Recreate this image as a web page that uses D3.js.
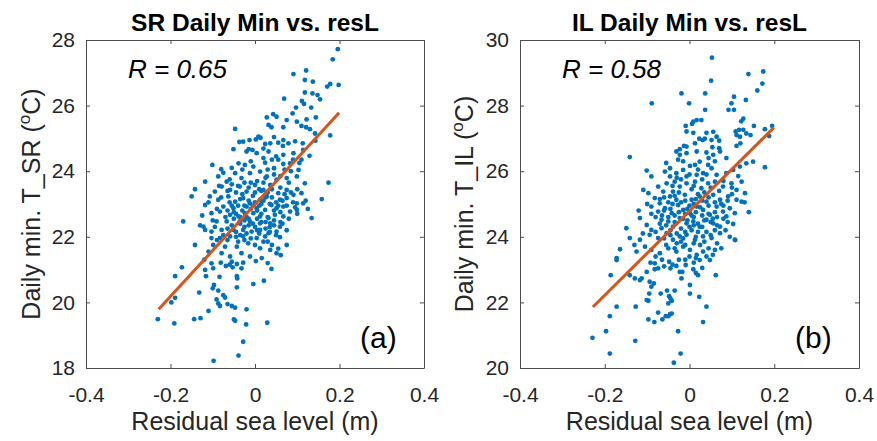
<!DOCTYPE html>
<html><head><meta charset="utf-8">
<script src="https://cdn.jsdelivr.net/npm/d3@7"></script>
<style>body{margin:0;background:#fff;}svg{display:block;}</style>
</head><body>
<script>
// ---------- DATA ----------
const xTicks = [-0.4, -0.2, 0, 0.2, 0.4];
const xTickLabels = ["-0.4", "-0.2", "0", "0.2", "0.4"];
const srYTicks = [18, 20, 22, 24, 26, 28];
const ilYTicks = [20, 22, 24, 26, 28, 30];
const titles = ["SR Daily Min vs. resL", "IL Daily Min vs. resL"];
const yLabelNames = ["T_SR", "T_IL"];
const rValues = ["0.65", "0.58"];
const panelTags = ["(a)", "(b)"];
const srFitX = [-0.228, 0.199];
const srFitY = [19.79, 25.78];
const ilFitX = [-0.228, 0.199];
const ilFitY = [21.86, 27.33];

const srPoints = [
[0.196,27.72],[0.184,27.41],[0.091,26.96],[0.121,27.07],[0.118,26.78],[0.137,26.73],[0.178,26.66],[0.198,26.63],[0.171,26.58],[0.118,26.40],[0.136,26.37],[0.148,26.32],[0.154,26.19],[0.069,26.21],[0.111,26.14],[0.116,26.05],[0.133,25.94],[0.097,25.94],[0.089,25.76],[0.043,25.74],[0.051,25.66],[0.075,25.56],[0.099,25.51],[0.122,25.58],[0.028,25.64],[0.032,25.41],[0.039,25.34],[0.067,25.34],[0.110,25.38],[0.121,25.34],[-0.047,25.29],[0.008,25.05],[0.002,24.97],[-0.013,24.95],[-0.028,24.90],[0.024,24.83],[0.036,24.85],[0.055,24.87],[0.067,24.95],[0.079,24.85],[0.095,24.91],[0.113,24.85],[0.178,25.09],[0.130,25.28],[0.142,25.15],[0.144,25.64],
[-0.015,24.67],[0.020,24.69],[0.066,24.77],[0.143,24.93],[-0.051,24.67],[-0.006,24.65],[0.013,25.02],[0.045,25.04],[-0.037,24.89],
[-0.020,24.60],[0.004,24.55],[0.032,24.60],[0.050,24.45],[0.067,24.50],[0.091,24.55],[0.129,24.47],[0.114,24.65],
[-0.101,24.19],[-0.080,24.06],[-0.039,24.24],[-0.024,24.19],[-0.004,24.14],[0.024,24.26],[0.045,24.09],[0.067,24.22],[0.083,24.24],[0.110,24.35],[0.103,24.04],
[-0.118,23.68],[-0.087,23.84],[-0.067,23.68],[-0.047,23.94],[-0.032,23.79],[-0.012,23.94],[0.012,23.99],[0.028,23.84],[0.051,23.74],[0.075,23.79],[0.099,23.84],[0.118,23.63],[0.174,23.65],
[-0.150,23.23],[-0.142,23.45],[-0.095,23.38],[-0.079,23.53],[-0.059,23.43],[-0.036,23.53],[-0.020,23.38],[0.000,23.58],[0.020,23.43],[0.036,23.58],[0.055,23.33],[0.075,23.43],[0.091,23.28],[0.110,23.33],[0.158,23.15],
[-0.107,23.23],[-0.087,23.13],[-0.063,23.23],[-0.047,23.07],[-0.028,23.18],[-0.012,23.02],[0.012,23.13],[0.028,23.23],[0.039,22.97],[0.059,23.13],[0.075,23.18],[0.099,23.02],[0.114,23.02],[-0.118,22.97],[-0.075,22.92],[-0.051,22.87],[-0.020,22.92],[0.004,22.87],[0.024,22.82],[0.051,22.87],[0.067,22.92],[0.083,22.77],[0.099,22.82],
[-0.170,22.47],[-0.103,22.72],[-0.083,22.77],[-0.059,22.67],[-0.039,22.62],[-0.024,22.72],[-0.004,22.72],[0.012,22.62],[0.032,22.57],[0.047,22.67],[0.067,22.62],[0.134,22.57],[-0.122,22.31],[-0.091,22.47],[-0.067,22.47],[-0.036,22.47],[-0.012,22.47],[0.012,22.41],[0.036,22.41],[0.059,22.31],
[-0.118,22.21],[-0.103,22.16],[-0.079,22.21],[-0.051,22.21],[-0.028,22.21],[-0.008,22.16],[0.012,22.21],[0.032,22.11],[0.051,22.16],[-0.083,21.96],[-0.059,22.01],[-0.028,22.01],[0.004,21.96],[0.024,22.01],[0.059,21.99],[-0.103,21.96],
[-0.142,21.75],[-0.099,21.75],[-0.071,21.70],[-0.043,21.70],[-0.016,21.80],[0.012,21.65],[0.036,21.60],[0.055,21.64],[0.075,21.75],
[-0.079,21.50],[-0.059,21.40],[-0.032,21.50],[-0.012,21.40],[0.016,21.35],[0.051,21.50],[0.061,21.44],
[-0.103,21.19],[-0.081,21.21],[-0.055,21.24],[-0.043,21.17],[-0.028,21.21],[0.002,21.26],[-0.118,20.99],[-0.099,21.04],[-0.069,21.11],[-0.053,21.07],[-0.032,21.04],[-0.116,20.80],[-0.084,20.78],[-0.043,20.80],[-0.042,20.73],[-0.173,21.07],[-0.189,20.80],[0.039,21.02],[-0.004,20.56],[0.021,20.66],[-0.097,20.53],[-0.100,20.43],[-0.087,20.36],[-0.043,20.46],[-0.132,20.30],[-0.075,20.22],[-0.071,20.15],[-0.091,20.09],[-0.087,19.97],[-0.083,19.89],[-0.065,19.95],[-0.055,19.89],[-0.047,19.84],[-0.189,20.14],[-0.198,20.00],[-0.020,19.79],[-0.110,19.74],[-0.230,19.49],[-0.191,19.36],[-0.144,19.49],[-0.129,19.52],[-0.050,19.48],[-0.047,19.44],[-0.021,19.33],[0.029,19.38],[-0.028,18.80],[-0.039,18.38],[-0.098,18.22],
[-0.060,23.05],[-0.040,22.95],[-0.030,22.80],[-0.020,22.60],[-0.010,22.85],[0.000,23.05],[0.010,22.95],[0.020,23.10],[0.030,23.35],[0.040,23.20],[0.050,23.05],[0.060,22.75],[-0.050,22.55],[-0.035,22.40],[-0.025,22.30],[-0.015,22.35],[0.005,22.55],[0.015,22.70],[0.025,22.45],[0.035,22.30],[0.045,22.50],[-0.070,22.60],[-0.065,22.80],[-0.055,22.35],[-0.045,22.15],[-0.035,22.05],[-0.020,22.10],[0.000,22.30],[0.010,22.10],[0.020,21.85],[-0.010,21.95],[-0.040,21.85],[-0.050,22.75],[-0.030,23.30],[-0.015,23.50],[0.005,23.70],[0.020,23.65],[0.040,23.45],[0.060,23.50],[0.080,23.65],[0.090,23.05],[0.070,23.30],[-0.080,23.20],[-0.090,22.85],[-0.100,22.50],[-0.095,22.30],[0.050,22.05],[0.065,22.40],[0.080,22.55],[0.100,22.70],[-0.005,23.25],[0.015,23.40],[0.030,22.60],[-0.025,23.65],[-0.060,23.75],[-0.040,23.55],[0.045,23.90],[0.030,24.05],[-0.010,24.30],[0.055,24.35],[0.085,24.00],[0.100,23.45],[0.120,23.10],[0.125,22.85],
[-0.065,23.40],[-0.055,23.60],[-0.045,23.35],[-0.035,23.15],[-0.025,22.95],[-0.015,23.10],[-0.005,22.95],[0.005,22.80],[0.015,23.00],[0.025,23.20],[0.035,23.00],[0.045,22.80],[0.055,22.95],[0.065,23.10],[0.075,22.95],[-0.055,22.95],[-0.045,22.70],[-0.035,22.60],[-0.025,22.50],[-0.015,22.55],[-0.005,22.40],[0.005,22.20],[0.015,22.45],[0.025,22.25],[0.035,22.15],[0.045,22.35],[-0.065,22.25],[-0.075,22.05],[-0.065,21.90],[-0.045,22.00],[-0.025,21.90],[0.000,21.75],[0.030,21.85],[0.010,23.45],[0.000,23.35],[-0.010,23.65],[0.025,23.80],[0.060,23.85],[0.070,24.05],[0.040,24.35],[0.020,24.40],[-0.030,24.05],[-0.055,24.10],[-0.075,23.95],[-0.085,23.55],[-0.110,23.05],[-0.125,22.65],[-0.130,22.35],[0.085,23.35],[0.095,22.90],[0.060,22.45],[0.075,22.20],[0.040,21.75],[-0.090,21.90],[-0.110,21.55],[-0.120,21.30],[-0.060,21.15],[0.030,21.20],[0.090,24.35],[0.105,24.25]
];

const ilPoints = [
[0.053,29.46],[0.051,28.76],[0.139,28.96],[0.174,29.04],[0.172,28.67],[0.160,28.46],[-0.089,28.07],[-0.019,28.37],[0.037,28.37],[-0.001,28.07],[0.037,27.87],[0.105,28.27],[0.099,28.07],[0.092,27.87],[0.105,27.87],[0.133,28.17],[0.127,27.60],[0.122,27.52],[0.117,27.26],[0.109,27.21],[0.127,27.26],[0.134,27.15],[0.119,27.05],[0.152,27.38],[0.178,27.28],[0.188,27.07],[0.009,27.51],[0.017,27.56],[0.006,27.44],[0.028,27.56],[-0.009,27.38],[-0.007,27.21],[0.009,27.17],[0.040,27.17],[0.056,27.20],[0.023,26.99],[0.031,26.95],[0.036,26.99],[0.052,26.95],[0.064,27.05],[0.070,26.93],[0.070,26.70],[0.054,26.73],[0.013,26.85],[-0.013,26.77],[-0.007,26.75],[-0.023,26.67],[0.111,27.10],[0.120,26.85],[0.111,26.77],[0.144,27.10],[0.195,27.38],
[-0.141,26.43],[-0.031,26.60],[-0.023,26.50],[-0.007,26.55],[0.017,26.60],[0.040,26.57],[0.056,26.50],[0.072,26.60],[0.087,26.40],[0.150,26.29],[0.178,26.12],[-0.027,26.35],[0.024,26.29],[0.044,26.19],[0.013,26.19],
[-0.101,26.02],[-0.090,25.84],[-0.058,25.99],[-0.046,26.09],[-0.031,25.94],[-0.015,26.04],[0.001,26.16],[0.017,25.89],[0.032,25.94],[0.052,26.09],[0.064,25.89],[0.087,25.94],[0.103,26.04],[0.119,26.14],[0.134,26.24],[-0.046,25.84],[-0.007,25.84],
[-0.109,25.43],[-0.074,25.53],[-0.054,25.63],[-0.035,25.68],[-0.023,25.53],[-0.007,25.63],[0.013,25.68],[0.028,25.48],[0.044,25.63],[0.060,25.68],[0.079,25.53],[0.099,25.63],[0.123,25.68],[0.111,25.43],[-0.062,25.38],[-0.039,25.38],
[-0.097,25.33],[-0.082,25.18],[-0.070,25.02],[-0.046,25.23],[-0.031,25.13],[-0.011,25.28],[0.005,25.13],[0.024,25.23],[0.040,25.07],[0.056,25.28],[0.072,25.13],[0.091,25.23],[0.111,25.13],[0.131,25.33],[0.123,25.07],
[-0.090,24.92],[-0.074,24.77],[-0.058,24.87],[-0.042,24.72],[-0.027,24.97],[-0.015,24.82],[0.001,24.72],[0.017,24.92],[0.032,24.82],[0.048,24.67],[0.064,24.92],[0.079,24.77],[0.095,24.87],[0.107,24.72],[0.087,24.62],
[-0.117,24.57],[-0.101,24.36],[-0.090,24.21],[-0.066,24.52],[-0.050,24.47],[-0.039,24.31],[-0.023,24.57],[-0.007,24.41],[0.009,24.47],[0.024,24.31],[0.040,24.52],[0.056,24.41],[0.072,24.31],[-0.066,24.26],[-0.149,24.26],
[-0.141,23.96],[-0.117,23.91],[-0.094,24.06],[-0.074,23.96],[-0.054,24.11],[-0.039,23.91],[-0.023,24.01],[-0.007,24.06],[0.013,23.91],[0.032,24.01],[0.052,23.96],[0.072,24.11],[0.107,23.91],
[-0.164,23.62],[-0.125,23.55],[-0.105,23.70],[-0.090,23.60],[-0.070,23.50],[-0.050,23.65],[-0.031,23.55],[-0.015,23.70],[0.001,23.60],[0.017,23.45],[0.032,23.55],[0.060,23.60],[-0.172,23.35],
[-0.172,23.29],[-0.092,23.21],[-0.082,23.19],[-0.048,23.24],[-0.031,23.11],[-0.009,23.14],[0.010,23.21],[0.024,23.29],[0.048,23.29],[-0.186,22.83],[-0.141,22.83],[-0.129,22.73],[-0.117,22.68],[-0.113,22.73],[-0.101,22.93],[-0.094,22.63],[-0.084,22.58],[-0.082,23.01],[-0.074,23.04],[-0.045,23.04],[-0.023,22.93],[-0.017,22.93],[-0.019,22.73],[0.009,23.01],[0.015,22.90],[0.020,22.83],[0.062,22.83],[-0.090,22.48],[-0.095,22.27],[-0.068,22.27],[-0.053,22.36],[-0.035,22.36],[-0.048,22.19],[-0.045,22.12],[-0.050,21.97],[-0.042,22.05],[-0.101,22.07],[-0.097,22.05],[0.001,22.27],[0.001,22.53],[0.023,22.17],[-0.172,21.87],[-0.127,21.87],[0.040,21.87],[-0.074,21.69],[-0.046,21.64],[-0.050,21.58],[-0.056,21.58],[-0.042,21.66],[-0.097,21.48],[-0.083,21.40],[-0.064,21.48],[-0.188,21.58],[0.032,21.40],[-0.197,21.12],[-0.027,21.12],[-0.229,20.92],[-0.128,20.83],[-0.188,20.44],[-0.021,20.44],[-0.037,20.16],
[-0.050,24.60],[-0.035,24.45],[-0.020,24.25],[-0.010,24.70],[0.000,24.95],[0.010,24.60],[0.020,24.40],[0.030,24.65],[0.045,24.95],[0.060,24.75],[-0.045,24.05],[-0.030,23.80],[-0.015,23.95],[0.005,24.20],[0.015,24.00],[0.040,24.15],[0.050,24.45],[-0.060,24.80],[-0.040,25.00],[-0.025,25.35],[-0.010,25.10],[0.005,25.45],[0.020,25.30],[0.035,25.35],[0.050,25.50],[0.070,25.40],[0.080,24.95],[0.090,24.45],[-0.070,24.40],[-0.080,24.15],[-0.055,23.75],[-0.020,23.85],[0.000,23.40],[0.025,23.75],[0.040,23.40],[0.060,24.20],[-0.030,25.80],[0.000,25.90],[0.030,25.75],[-0.015,26.30],[0.060,26.30],[0.100,25.30],[0.085,24.20],[-0.090,24.70],[-0.100,25.00],[-0.060,25.20],[0.010,24.35],[-0.005,24.85],[0.015,25.15],[0.045,23.65],[0.065,23.80],[-0.065,23.30],[-0.040,23.15],[-0.010,23.30],[0.030,23.05],[0.103,24.39],[0.108,23.90],[0.055,23.45],
[-0.045,24.85],[-0.035,24.65],[-0.025,24.75],[-0.015,24.55],[-0.005,24.50],[0.005,24.65],[0.015,24.75],[0.025,24.90],[0.035,24.50],[0.045,24.70],[0.055,24.55],[0.065,24.60],[-0.055,24.35],[-0.045,24.20],[-0.030,24.10],[-0.010,24.15],[0.000,24.30],[0.020,24.15],[0.030,24.30],[0.050,24.05],[0.065,24.35],[-0.060,23.95],[-0.035,23.65],[-0.010,23.75],[0.010,23.80],[0.035,23.85],[0.080,24.55],[0.075,25.00],[0.060,25.05],[0.045,25.20],[0.030,25.10],[0.010,25.00],[-0.020,25.05],[-0.035,25.25],[-0.050,25.05],[-0.070,25.15],[-0.080,24.60],[-0.065,24.65],[0.090,25.10],[0.100,25.50],[0.080,25.70],[0.040,25.90],[0.020,26.05],[-0.020,25.75],[-0.040,25.55],[0.010,25.55],[-0.055,26.25],[0.045,26.40],[0.095,24.00],[0.075,23.65],[-0.080,23.40],[-0.060,23.10],[-0.025,23.30],[0.015,23.35],[-0.110,24.10],[-0.120,24.80],[-0.130,23.75],[0.115,25.85],[0.130,25.05],[0.140,24.75]
];

// ---------- DRAW ----------
const W = 877, H = 441;
const FONT = "'Liberation Sans', Arial, Helvetica, sans-serif";
const svg = d3.select("body").append("svg").attr("width", W).attr("height", H)
  .style("font-family", FONT);
svg.append("rect").attr("width", W).attr("height", H).attr("fill", "#fff");

const panels = [
  {pts: srPoints, fitX: srFitX, fitY: srFitY, yTicks: srYTicks, left: 86, right: 424, ylabX: 40},
  {pts: ilPoints, fitX: ilFitX, fitY: ilFitY, yTicks: ilYTicks, left: 520, right: 859, ylabX: 473}
];
const plotTop = 40, plotBottom = 368;
const axisColor = "#4d4d4d", textColor = "#262626";

panels.forEach((p, i) => {
  const x = d3.scaleLinear().domain([xTicks[0], xTicks[xTicks.length-1]]).range([p.left, p.right]);
  const y = d3.scaleLinear().domain([p.yTicks[0], p.yTicks[p.yTicks.length-1]]).range([plotBottom, plotTop]);
  const g = svg.append("g");

  // points
  g.append("g").selectAll("circle").data(p.pts).join("circle")
    .attr("cx", d => x(d[0])).attr("cy", d => y(d[1])).attr("r", 2.4)
    .attr("fill", "#0072BD");

  // fit line
  const fit = p.fitX.map((v, k) => [v, p.fitY[k]]);
  g.append("path").datum(fit)
    .attr("d", d3.line().x(d => x(d[0])).y(d => y(d[1])))
    .attr("stroke", "#D95319").attr("stroke-width", 3).attr("fill", "none");

  // axes
  const fmtX = d => xTickLabels[xTicks.indexOf(d)];
  const ax = [
    g.append("g").attr("transform", `translate(0,${plotBottom})`)
      .call(d3.axisBottom(x).tickValues(xTicks).tickFormat(fmtX).tickSizeInner(-4).tickSizeOuter(0).tickPadding(19)),
    g.append("g").attr("transform", `translate(0,${plotTop})`)
      .call(d3.axisTop(x).tickValues(xTicks).tickFormat("").tickSizeInner(-4).tickSizeOuter(0)),
    g.append("g").attr("transform", `translate(${p.left},0)`)
      .call(d3.axisLeft(y).tickValues(p.yTicks).tickFormat(d3.format("d")).tickSizeInner(-4).tickSizeOuter(0).tickPadding(11)),
    g.append("g").attr("transform", `translate(${p.right},0)`)
      .call(d3.axisRight(y).tickValues(p.yTicks).tickFormat("").tickSizeInner(-4).tickSizeOuter(0))
  ];
  ax.forEach(a => {
    a.select(".domain").attr("stroke", axisColor).attr("stroke-width", 1);
    a.selectAll(".tick line").attr("stroke", axisColor).attr("stroke-width", 1);
    a.selectAll(".tick text").attr("fill", textColor).style("font-size", "21px").style("font-family", FONT);
  });

  // title
  svg.append("text").attr("x", (p.left + p.right) / 2).attr("y", 31)
    .attr("text-anchor", "middle").attr("font-weight", "bold").attr("font-size", 24.5)
    .attr("fill", "#000").text(titles[i]);

  // x label
  svg.append("text").attr("x", (p.left + p.right) / 2).attr("y", 430)
    .attr("text-anchor", "middle").attr("font-size", 25).attr("fill", textColor)
    .text("Residual sea level (m)");

  // y label
  const yl = svg.append("text").attr("transform", `translate(${p.ylabX},${(plotTop + plotBottom) / 2}) rotate(-90)`)
    .attr("text-anchor", "middle").attr("font-size", 25).attr("fill", textColor);
  yl.append("tspan").text(`Daily min. ${yLabelNames[i]} (`);
  yl.append("tspan").attr("font-size", 17).attr("dy", -10).text("o");
  yl.append("tspan").attr("dy", 10).text("C)");

  // R annotation
  svg.append("text").attr("x", p.left + 42).attr("y", 78)
    .attr("font-size", 26).attr("font-style", "italic").attr("fill", "#000")
    .text(`R = ${rValues[i]}`);

  // panel tag
  svg.append("text").attr("x", p.right - 64).attr("y", 348)
    .attr("font-size", 30).attr("fill", "#000").text(panelTags[i]);
});
</script>
</body></html>
